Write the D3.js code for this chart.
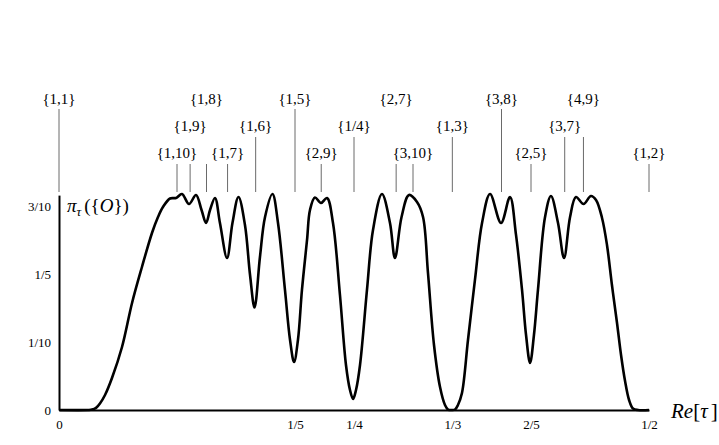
<!DOCTYPE html>
<html>
<head>
<meta charset="utf-8">
<script src="https://cdn.jsdelivr.net/npm/d3@7"></script>
<style>
  html, body { margin: 0; padding: 0; background: #fff; }
  svg { display: block; }
  text { font-family: "Liberation Serif", "DejaVu Serif", serif; fill: #000; }
</style>
</head>
<body>
<svg id="chart" width="719" height="445"></svg>
<script>
// ---- data ----
const reTau = [0, 0.0246, 0.0280, 0.0314, 0.0347, 0.0390, 0.0449, 0.0534, 0.0619, 0.0703, 0.0788,
  0.0839, 0.0881, 0.0941, 0.0992, 0.1042, 0.1102, 0.1161, 0.1208, 0.1246, 0.1280,
  0.1322, 0.1364, 0.1424, 0.1470, 0.1521, 0.1576, 0.1619, 0.1657, 0.1703, 0.1746,
  0.1809, 0.1856, 0.1915, 0.1958, 0.1992, 0.2025, 0.2059, 0.2102, 0.2127, 0.2169,
  0.2220, 0.2271, 0.2322, 0.2381, 0.2432, 0.2466, 0.2492, 0.2517, 0.2551, 0.2610,
  0.2661, 0.2737, 0.2805, 0.2847, 0.2903, 0.2966, 0.3034, 0.3085, 0.3127, 0.3178,
  0.3229, 0.3271, 0.3297, 0.3331, 0.3356, 0.3381, 0.3415, 0.3466, 0.3525, 0.3585,
  0.3653, 0.3746, 0.3822, 0.3873, 0.3924, 0.3958, 0.3992, 0.4025, 0.4059, 0.4119,
  0.4169, 0.4229, 0.4280, 0.4331, 0.4381, 0.4445, 0.4508, 0.4551, 0.4602, 0.4644,
  0.4686, 0.4729, 0.4763, 0.4797, 0.4831, 0.4864, 0.4907, 0.5];
const piZero = [0, 0, 0.0006, 0.0032, 0.0096, 0.0221, 0.0471, 0.0926, 0.1574, 0.2103, 0.2603,
  0.2838, 0.2985, 0.3110, 0.3118, 0.3176, 0.3029, 0.3162, 0.2941, 0.2750, 0.2941,
  0.3118, 0.2750, 0.2235, 0.2750, 0.3132, 0.2721, 0.1985, 0.1507, 0.2250, 0.2838,
  0.3176, 0.2750, 0.1765, 0.1029, 0.0706, 0.1029, 0.1765, 0.2500, 0.2941, 0.3125,
  0.3044, 0.3118, 0.2750, 0.1691, 0.0662, 0.0294, 0.0162, 0.0294, 0.0662, 0.1765,
  0.2647, 0.3176, 0.2750, 0.2235, 0.2838, 0.3162, 0.3059, 0.2838, 0.2015, 0.0956,
  0.0338, 0.0074, 0.0007, 0, 0.0007, 0.0074, 0.0250, 0.1029, 0.1912, 0.2750,
  0.3176, 0.2750, 0.3132, 0.2574, 0.1765, 0.1103, 0.0691, 0.1103, 0.1765, 0.2838,
  0.3147, 0.2750, 0.2235, 0.2838, 0.3132, 0.3029, 0.3147, 0.3088, 0.2824, 0.2426,
  0.1838, 0.1279, 0.0809, 0.0426, 0.0147, 0.0022, 0, 0];

const markerValues = [0, 1/10, 1/9, 1/8, 1/7, 1/6, 1/5, 2/9, 1/4, 2/7, 3/10, 1/3, 3/8, 2/5, 3/7, 4/9, 1/2];
const markerLabels = ["{1,1}", "{1,10}", "{1,9}", "{1,8}", "{1,7}", "{1,6}", "{1,5}", "{2,9}", "{1/4}",
  "{2,7}", "{3,10}", "{1,3}", "{3,8}", "{2,5}", "{3,7}", "{4,9}", "{1,2}"];
const markerLabelRow = [1, 3, 2, 1, 3, 2, 1, 3, 2, 1, 3, 2, 1, 3, 2, 1, 3];
const markerStemRow  = [1, 3, 3, 3, 3, 2, 1, 3, 2, 3, 3, 2, 1, 3, 2, 2, 3];

const xTickValues = [0, 1/5, 1/4, 1/3, 2/5, 1/2];
const xTickLabels = ["0", "1/5", "1/4", "1/3", "2/5", "1/2"];
const yTickValues = [0, 0.1, 0.2, 0.3];
const yTickLabels = ["0", "1/10", "1/5", "3/10"];

// ---- layout ----
const svg = d3.select("#chart");
const x = d3.scaleLinear().domain([0, 0.5]).range([59, 649]);
const y = d3.scaleLinear().domain([0, 0.316]).range([410, 195.1]);

const labelBaseline = {1: 104, 2: 131, 3: 158};
const stemTop = {1: 109, 2: 137, 3: 164};
const stemBottom = 192;

// marker stems
svg.append("g").selectAll("line")
  .data(markerValues)
  .join("line")
  .attr("x1", d => x(d)).attr("x2", d => x(d))
  .attr("y1", (d, i) => stemTop[markerStemRow[i]])
  .attr("y2", stemBottom)
  .attr("stroke", "#6a6a6a")
  .attr("stroke-width", 1);

// marker labels
svg.append("g").selectAll("text")
  .data(markerValues)
  .join("text")
  .attr("x", d => x(d))
  .attr("y", (d, i) => labelBaseline[markerLabelRow[i]])
  .attr("text-anchor", "middle")
  .attr("font-size", 15)
  .text((d, i) => markerLabels[i]);

// axes
const xAxis = d3.axisBottom(x).tickValues(xTickValues)
  .tickFormat((d, i) => xTickLabels[i]).tickSize(0).tickPadding(10);
const gx = svg.append("g").attr("transform", "translate(0,410)").call(xAxis);
gx.select(".domain").attr("stroke", "#000").attr("stroke-width", 2);
gx.selectAll("text").attr("font-size", 13).attr("font-family", "Liberation Serif");

const yAxis = d3.axisLeft(y).tickValues(yTickValues)
  .tickFormat((d, i) => yTickLabels[i]).tickSize(0).tickPadding(8);
const gy = svg.append("g").attr("transform", "translate(59,0)").call(yAxis);
gy.select(".domain").attr("stroke", "#000").attr("stroke-width", 2);
gy.selectAll("text").attr("font-size", 13).attr("font-family", "Liberation Serif");

// curve
const pts = reTau.map((t, i) => [t, piZero[i]]);
svg.append("path")
  .datum(pts)
  .attr("fill", "none")
  .attr("stroke", "#000")
  .attr("stroke-width", 2.6)
  .attr("stroke-linejoin", "round")
  .attr("d", d3.line().x(d => x(d[0])).y(d => y(Math.max(0, d[1]))).curve(d3.curveCatmullRom.alpha(0.5)));

// y-axis title: π_τ({O})
const yt = svg.append("text").attr("x", 67).attr("y", 212).attr("font-size", 19);
yt.append("tspan").attr("font-style", "italic").text("π");
yt.append("tspan").attr("font-style", "italic").attr("font-size", 13).attr("dy", 4).text("τ");
yt.append("tspan").attr("dy", -4).attr("dx", 3).text("({");
yt.append("tspan").attr("font-style", "italic").text("O");
yt.append("tspan").text("})");

// x-axis title: Re[τ]
const xt = svg.append("text").attr("x", 671).attr("y", 418).attr("font-size", 21);
xt.append("tspan").attr("font-style", "italic").text("Re");
xt.append("tspan").text("[");
xt.append("tspan").attr("font-style", "italic").text("τ");
xt.append("tspan").attr("dx", 3).text("]");
</script>
</body>
</html>
